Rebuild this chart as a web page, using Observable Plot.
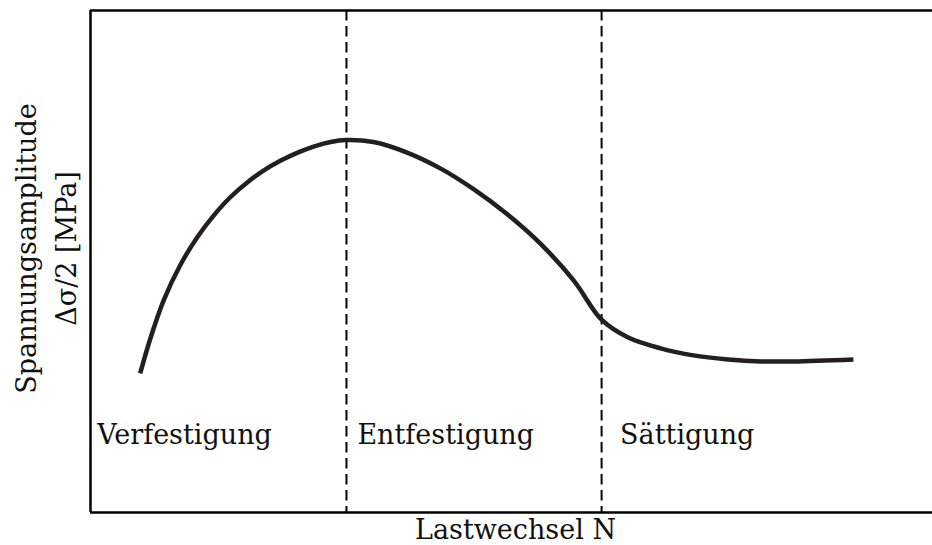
<!DOCTYPE html>
<html>
<head>
<meta charset="utf-8">
<script src="https://cdn.jsdelivr.net/npm/d3@7"></script>
<script src="https://cdn.jsdelivr.net/npm/@observablehq/plot@0.6"></script>
</head>
<body style="margin:0">
<div id="chart"></div>
<script>
// Load cycles N (normalized 0..100) and stress amplitude (normalized 0..100)
const cycles = [5.9, 7.1, 8.7, 10.7, 12.7, 14.6, 16.6, 18.65, 20.55, 22.6, 24.6, 26.5, 28.5, 30.3, 33.6, 37.6, 41.6, 45.5, 49.5, 53.4, 57.4, 60.7, 63.8, 67.7, 71.6, 75.7, 79.6, 83.5, 90.6];
const amplitude = [27.7, 34.6, 42.3, 49.4, 54.9, 59.1, 62.8, 65.8, 68.1, 70.1, 71.7, 72.9, 73.8, 74.2, 73.8, 71.7, 68.5, 64.4, 59.4, 53.6, 46.2, 38.4, 34.9, 32.7, 31.3, 30.5, 30.1, 30.1, 30.5];
const phaseBoundaries = [30.4, 60.7];
const phaseLabels = ["Verfestigung", "Entfestigung", "Sättigung"];
const phaseLabelX = [0.8, 31.7, 62.9];
const phaseLabelY = [13.7, 13.7, 13.7];
const xLabel = "Lastwechsel N";
const yLabelLine1 = "Spannungsamplitude";
const yLabelLine2 = "Δσ/2 [MPa]";

const curve = cycles.map((c, i) => ({N: c, s: amplitude[i]}));
const labels = phaseLabels.map((t, i) => ({t, x: phaseLabelX[i], y: phaseLabelY[i]}));

const ink = "#231f20";
const ff = "DejaVu Serif";
const fs = 27;

const chart = Plot.plot({
  width: 932,
  height: 545,
  marginLeft: 90,
  marginRight: 0,
  marginTop: 10,
  marginBottom: 33,
  style: {fontFamily: ff},
  x: {domain: [0, 100], axis: null},
  y: {domain: [0, 100], axis: null},
  marks: [
    Plot.ruleX(phaseBoundaries, {stroke: "#000", strokeWidth: 2, strokeDasharray: "10.5,5.5"}),
    Plot.line(curve, {x: "N", y: "s", curve: "catmull-rom", stroke: ink, strokeWidth: 4.5, strokeLinecap: "butt"}),
    Plot.ruleX([0], {stroke: "#000", strokeWidth: 2.5}),
    Plot.ruleY([0, 100], {stroke: "#000", strokeWidth: 2.5}),
    Plot.text(labels, {x: "x", y: "y", text: "t", textAnchor: "start", lineAnchor: "bottom", fontFamily: ff, fontSize: fs, fill: "#111"}),
    Plot.text([xLabel], {frameAnchor: "bottom", dx: 4, dy: 26, lineAnchor: "bottom", textAnchor: "middle", fontFamily: ff, fontSize: fs, fill: "#111"}),
    Plot.text([yLabelLine1], {frameAnchor: "left", dx: -55, dy: -13, rotate: -90, lineAnchor: "bottom", textAnchor: "middle", fontFamily: ff, fontSize: fs, fill: "#111"}),
    Plot.text([yLabelLine2], {frameAnchor: "left", dx: -15, dy: -13, rotate: -90, lineAnchor: "bottom", textAnchor: "middle", fontFamily: ff, fontSize: fs, fill: "#111"})
  ]
});
document.getElementById("chart").appendChild(chart);
</script>
</body>
</html>
